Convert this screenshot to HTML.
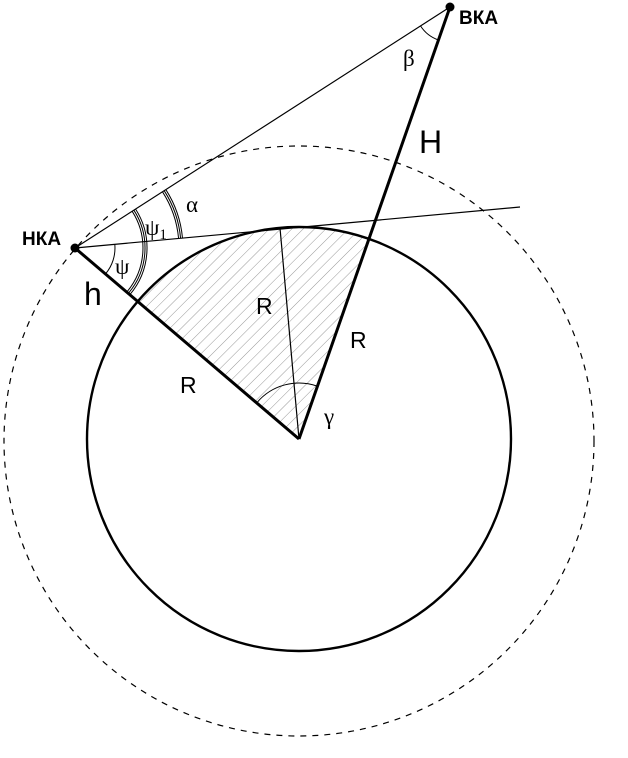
<!DOCTYPE html>
<html><head><meta charset="utf-8"><style>html,body{margin:0;padding:0;background:#fff}svg{display:block}</style></head><body>
<svg width="628" height="758" viewBox="0 0 628 758" xmlns="http://www.w3.org/2000/svg">
<defs>
<pattern id="h" patternUnits="userSpaceOnUse" width="8" height="8" patternTransform="rotate(45)">
<line x1="0" y1="0" x2="0" y2="8" stroke="#999" stroke-width="1"/>
</pattern>
</defs>
<path d="M299,439 L137.5,302.2 A212,212 0 0 1 368.8,239" fill="url(#h)"/>
<circle cx="299" cy="441" r="295" fill="none" stroke="#000" stroke-width="1.2" stroke-dasharray="6,6"/>
<circle cx="299" cy="439" r="212" fill="none" stroke="#000" stroke-width="2.4"/>
<line x1="75" y1="248" x2="450" y2="7" stroke="#000" stroke-width="1.2"/>
<line x1="75" y1="248" x2="520" y2="207" stroke="#000" stroke-width="1.2"/>
<line x1="75" y1="248" x2="299" y2="439" stroke="#000" stroke-width="3"/>
<line x1="450" y1="7" x2="299" y2="439" stroke="#000" stroke-width="3"/>
<line x1="299" y1="439" x2="280" y2="228" stroke="#000" stroke-width="1.2"/>
<circle cx="75" cy="248" r="4.5" fill="#000"/>
<circle cx="450" cy="7" r="4.5" fill="#000"/>
<g fill="none" stroke="#000" stroke-width="1">
<path d="M105.5,273.9 A40,40 0 0 0 114.8,244.3"/>
<path d="M126.9,291.9 A68,68 0 0 0 132.2,211.3"/>
<path d="M128.4,293.3 A70,70 0 0 0 133.9,210.2"/>
<path d="M129.9,294.6 A72,72 0 0 0 135.6,209.1"/>
<path d="M178.6,238.5 A104,104 0 0 0 162.5,191.8"/>
<path d="M180.6,238.3 A106,106 0 0 0 164.2,190.7"/>
<path d="M182.5,238.1 A108,108 0 0 0 165.9,189.7"/>
<path d="M438.4,40 A35,35 0 0 1 420.5,25.9"/>
<path d="M257.1,402.4 A55,55 0 0 1 317.2,386.1"/>
</g>
<g font-family="Liberation Sans, sans-serif" fill="#000">
<text x="22" y="245" font-size="19" font-weight="bold">НКА</text>
<text x="459" y="24" font-size="19" font-weight="bold">ВКА</text>
<text x="84" y="305" font-size="32">h</text>
<text x="419" y="153" font-size="32">H</text>
<text x="256" y="314" font-size="23">R</text>
<text x="350" y="348" font-size="23">R</text>
<text x="180" y="393" font-size="23">R</text>
</g>
<g font-family="Liberation Serif, serif" fill="#000" font-size="23">
<text x="115" y="274">ψ</text>
<text x="145" y="235">ψ<tspan font-size="15" dy="4">1</tspan></text>
<text x="186" y="212">α</text>
<text x="403" y="66">β</text>
<text x="324" y="424">γ</text>
</g>
</svg>
</body></html>
